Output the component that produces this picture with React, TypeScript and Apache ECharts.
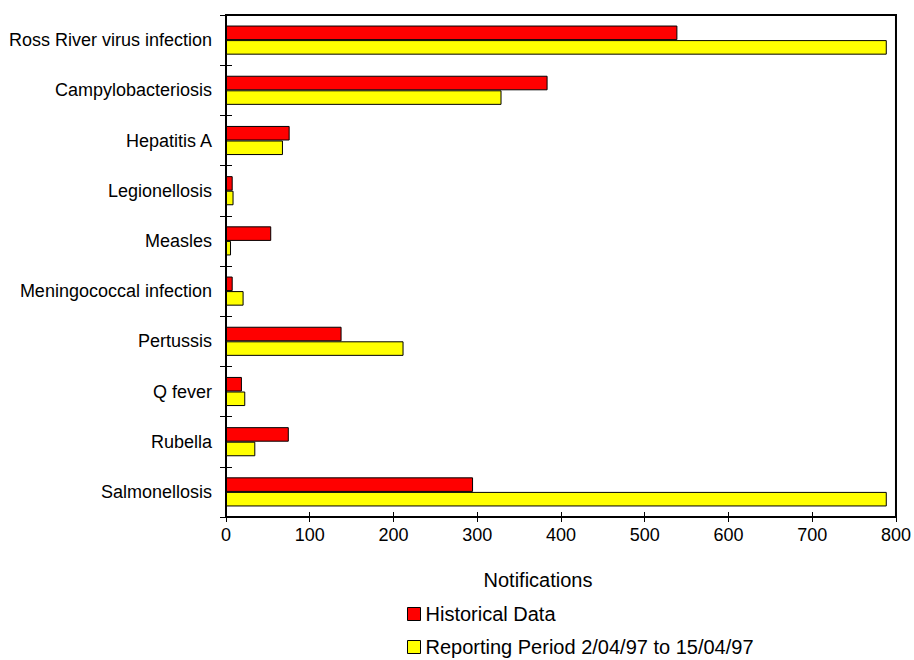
import React, { useEffect, useRef } from "react";
import * as echarts from "echarts";

const categories = [
  "Ross River virus infection",
  "Campylobacteriosis",
  "Hepatitis A",
  "Legionellosis",
  "Measles",
  "Meningococcal infection",
  "Pertussis",
  "Q fever",
  "Rubella",
  "Salmonellosis",
];
const historicalData = [539, 384, 76, 8, 54, 8, 138, 19, 75, 295];
const reportingData = [789, 329, 68, 9, 6, 21, 212, 23, 35, 789];
const xTicks = { min: 0, max: 800, interval: 100 };
const seriesNames = ["Historical Data", "Reporting Period 2/04/97 to 15/04/97"];
const seriesColors = ["#ff0000", "#ffff00"];
const axisTitle = "Notifications";

const FONT = "'Liberation Sans', Arial, sans-serif";

export default function App() {
  const ref = useRef<HTMLDivElement>(null);
  useEffect(() => {
    if (!ref.current) return;
    const chart = echarts.init(ref.current, null, { renderer: "svg" });
    const legendTops = [604, 637];
    chart.setOption({
      animation: false,
      backgroundColor: "#ffffff",
      textStyle: { fontFamily: FONT, color: "#000" },
      grid: {
        left: 226,
        top: 15,
        right: 16,
        bottom: 143,
        show: true,
        borderColor: "#000",
        borderWidth: 2,
        containLabel: false,
      },
      legend: seriesNames.map((n, i) => ({
        orient: "horizontal",
        left: 407,
        top: legendTops[i],
        padding: 0,
        itemWidth: 13,
        itemHeight: 13,
        icon: "rect",
        textStyle: { fontFamily: FONT, fontSize: 20, color: "#000" },
        data: [{ name: n, itemStyle: { color: seriesColors[i], borderColor: "#000", borderWidth: 1 } }],
      })),
      xAxis: [
        {
          type: "value",
          min: xTicks.min,
          max: xTicks.max,
          interval: xTicks.interval,
          axisLine: { show: true, lineStyle: { color: "#000", width: 2 } },
          axisTick: { show: true, length: 5, lineStyle: { color: "#000", width: 1 } },
          axisLabel: { fontFamily: FONT, fontSize: 18, color: "#000", margin: 9 },
          splitLine: { show: false },
        },
        {
          type: "value",
          position: "bottom",
          min: xTicks.min,
          max: xTicks.max,
          interval: xTicks.interval,
          axisLine: { show: false },
          axisTick: { show: true, inside: true, length: 5, lineStyle: { color: "#000", width: 1 } },
          axisLabel: { show: false },
          splitLine: { show: false },
        },
      ],
      yAxis: [
        {
          type: "category",
          data: categories,
          inverse: true,
          axisLine: { show: true, lineStyle: { color: "#000", width: 2 } },
          axisTick: { show: true, length: 6, lineStyle: { color: "#000", width: 1 } },
          axisLabel: { fontFamily: FONT, fontSize: 18, color: "#000", margin: 14 },
        },
        {
          type: "category",
          data: categories,
          inverse: true,
          position: "left",
          axisLine: { show: false },
          axisTick: { show: true, inside: true, length: 6, lineStyle: { color: "#000", width: 1 } },
          axisLabel: { show: false },
        },
      ],
      series: [
        {
          name: seriesNames[0],
          type: "bar",
          data: historicalData,
          barGap: "0%",
          barCategoryGap: "42%",
          itemStyle: { color: seriesColors[0], borderColor: "#000", borderWidth: 1 },
        },
        {
          name: seriesNames[1],
          type: "bar",
          data: reportingData,
          barGap: "0%",
          barCategoryGap: "42%",
          itemStyle: { color: seriesColors[1], borderColor: "#000", borderWidth: 1 },
        },
      ],
      graphic: [
        {
          type: "text",
          x: 538,
          y: 580,
          style: {
            text: axisTitle,
            fontFamily: FONT,
            fontSize: 20,
            fill: "#000",
            textAlign: "center",
            textVerticalAlign: "middle",
          },
        },
      ],
    });
    return () => chart.dispose();
  }, []);
  return (
    <div
      ref={ref}
      style={{ position: "absolute", left: 0, top: 0, width: 914, height: 660 }}
    />
  );
}
